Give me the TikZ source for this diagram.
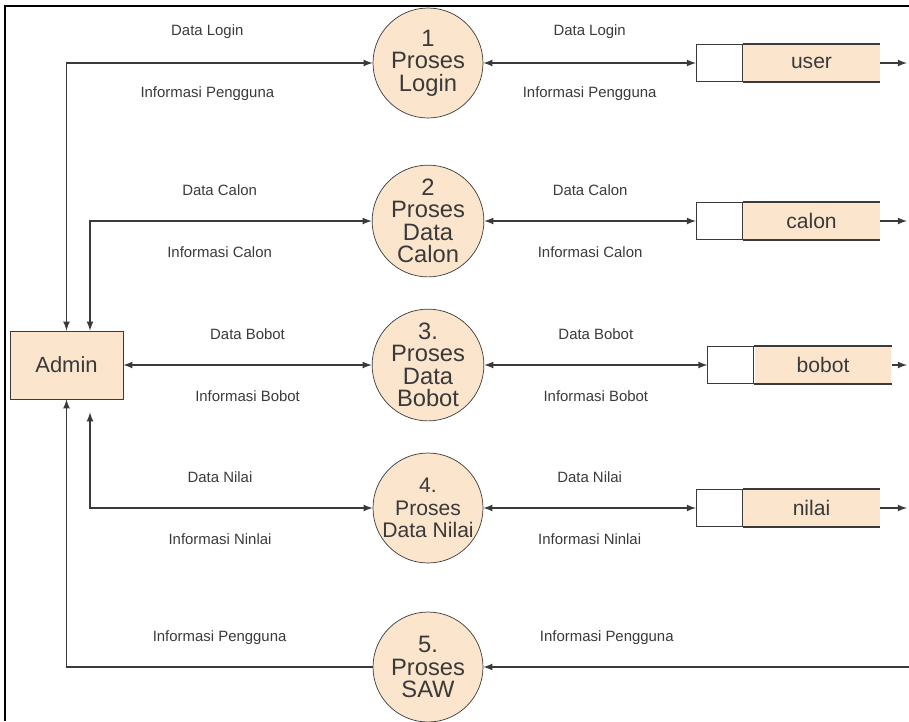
\documentclass[tikz,border=0pt]{standalone}
\usepackage{fontspec}
\setmainfont{Liberation Sans}
\usepackage{xcolor}
\usetikzlibrary{arrows,positioning}
\definecolor{peach}{HTML}{FCE5CD}
\definecolor{ink}{HTML}{3A3A3A}

\begin{document}
\begin{tikzpicture}[x=0.02cm,y=-0.02cm]
  \tikzset{proc/.style={draw=ink,circle,fill=peach,minimum size=2.2cm,inner sep=0pt,
      align=center,text=ink,font=\fontsize{13.5}{12.8}\selectfont}}
  \tikzset{entity/.style={draw=ink,fill=peach,minimum width=2.26cm,minimum height=1.36cm,
      text=ink,font=\fontsize{12.5}{14}\selectfont}}
  \tikzset{store/.style={fill=peach,minimum width=2.74cm,minimum height=0.74cm,inner sep=0pt,
      text=ink,font=\fontsize{12}{14}\selectfont}}
  \tikzset{storetag/.style={draw=ink,fill=white,minimum width=0.92cm,minimum height=0.74cm,inner sep=0pt}}
  \tikzset{flow/.style={draw=ink,line width=0.8pt,>=latex}}
  \tikzset{lbl/.style={text=ink,font=\fontsize{8.5}{10}\selectfont}}
  \useasboundingbox (0,0) rectangle (909,721);

  % frame
  \draw[line width=1.4pt] (5,721) -- (5,6) -- (909,6);

  \node[entity] (admin) at (66.5,365) {Admin};

  \node[proc] (p1) at (428,63) {1\\Proses\\Login};
  \node[proc] (p2) at (428,221) {2\\Proses\\Data\\Calon};
  \node[proc] (p3) at (428,365) {3.\\Proses\\Data\\Bobot};
  \node[proc,inner sep=-8pt,font=\fontsize{12}{12.8}\selectfont] (p4) at (428,508) {4.\\Proses\\Data Nilai};
  \node[proc] (p5) at (428,667) {5.\\Proses\\SAW};

  % data stores
  \node[store] (user) at (811.5,63) {user};
  \node[storetag,left=0pt of user] (usertag) {};
  \node[store] (calon) at (811.5,221) {calon};
  \node[storetag,left=0pt of calon] (calontag) {};
  \node[store] (bobot) at (823,365) {bobot};
  \node[storetag,left=0pt of bobot] (bobottag) {};
  \node[store] (nilai) at (811.5,508) {nilai};
  \node[storetag,left=0pt of nilai] (nilaitag) {};
  \foreach \s in {user,calon,bobot,nilai}{
    \draw[flow] (\s tag.north east) -- (\s.north east) (\s tag.south east) -- (\s.south east);
  }

  \coordinate (userout) at (907,63);
  \coordinate (calonout) at (907,221);
  \coordinate (bobotout) at (907,365);
  \coordinate (nilaiout) at (907,508);
  \coordinate (j2) at (90,221);
  \coordinate (j4) at (90,508);
  \coordinate (in5) at (909,667);

  % admin <-> processes
  \draw[flow,<->] (admin.north) |- node[lbl,pos=.73,yshift=.62cm]{Data Login}
    node[lbl,pos=.73,yshift=-.62cm]{Informasi Pengguna} (p1);
  \draw[flow,<->] (admin.north -| j2) |- node[lbl,pos=.73,yshift=.62cm]{Data Calon}
    node[lbl,pos=.73,yshift=-.62cm]{Informasi Calon} (p2);
  \draw[flow,<->] (admin) -- node[lbl,yshift=.62cm]{Data Bobot}
    node[lbl,yshift=-.62cm]{Informasi Bobot} (p3);
  \draw[flow,<->,shorten <=0.26cm] (admin.south -| j4) |- node[lbl,pos=.73,yshift=.62cm]{Data Nilai}
    node[lbl,pos=.73,yshift=-.62cm]{Informasi Ninlai} (p4);
  \draw[flow,->] (p5) -| node[lbl,pos=.25,yshift=.58cm]{Informasi Pengguna} (admin.south);

  % processes <-> stores
  \draw[flow,<->] (p1) -- node[lbl,yshift=.62cm]{Data Login}
    node[lbl,yshift=-.62cm]{Informasi Pengguna} (usertag);
  \draw[flow,<->] (p2) -- node[lbl,yshift=.62cm]{Data Calon}
    node[lbl,yshift=-.62cm]{Informasi Calon} (calontag);
  \draw[flow,<->] (p3) -- node[lbl,yshift=.62cm]{Data Bobot}
    node[lbl,yshift=-.62cm]{Informasi Bobot} (bobottag);
  \draw[flow,<->] (p4) -- node[lbl,yshift=.62cm]{Data Nilai}
    node[lbl,yshift=-.62cm]{Informasi Ninlai} (nilaitag);
  \draw[flow,->] (in5) -- node[lbl,pos=.71,yshift=.58cm]{Informasi Pengguna} (p5);

  \draw[flow,->] (user) -- (userout);
  \draw[flow,->] (calon) -- (calonout);
  \draw[flow,->] (bobot) -- (bobotout);
  \draw[flow,->] (nilai) -- (nilaiout);
\end{tikzpicture}
\end{document}
